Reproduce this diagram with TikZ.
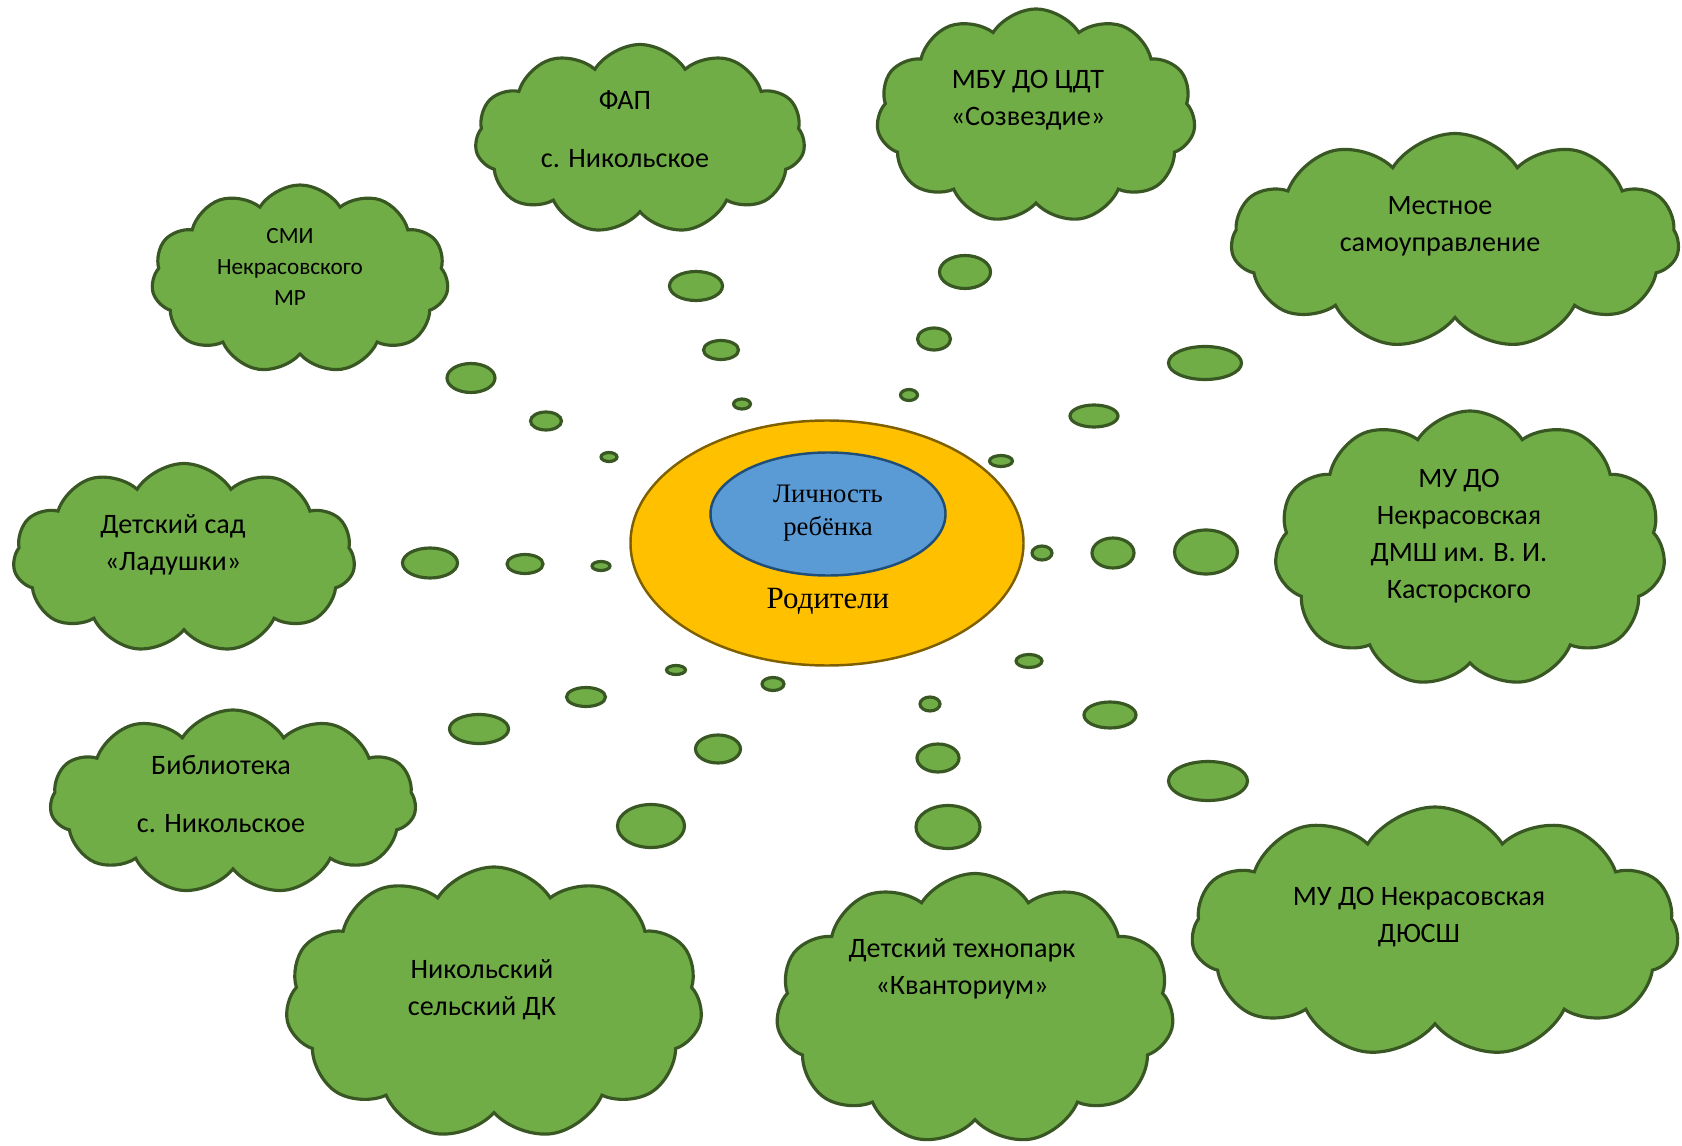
\documentclass[tikz,border=0pt]{standalone}
\usepackage{fontspec}
\setmainfont{Liberation Serif}
\newfontfamily\cloudfont{Carlito}
\usepackage{tikz}
\usetikzlibrary{shapes.geometric,shapes.symbols}

\definecolor{cloudgreen}{HTML}{70AD47}
\definecolor{cloudline}{HTML}{385723}
\definecolor{parentfill}{HTML}{FFC000}
\definecolor{parentline}{HTML}{7F6000}
\definecolor{childfill}{HTML}{5B9BD5}
\definecolor{childline}{HTML}{1F4E79}

\tikzset{
  cloudbox/.style={cloud, cloud puffs=11, cloud puff arc=115, cloud ignores aspect,
    draw=cloudline, fill=cloudgreen, line width=0.9pt, inner sep=0pt},
  cloudtext/.style={align=center, font=\cloudfont\fontsize{8}{10.5}\selectfont},
  bubble/.style={draw=cloudline, fill=cloudgreen, line width=0.9pt},
}

\begin{document}
\begin{tikzpicture}
 \useasboundingbox (0,0) rectangle (16.82,11.45);

    % draw centre
    \node[ellipse, draw=parentline, fill=parentfill, line width=0.7pt, inner sep=0pt,
      minimum width=3.93cm, minimum height=2.45cm] (parents) at (8.27,6.02) {};
    \node[ellipse, draw=childline, fill=childfill, line width=0.7pt, inner sep=0pt,
      minimum width=2.35cm, minimum height=1.23cm] (child) at (8.28,6.31) {};
    \node[align=center, font=\fontsize{7.6}{9.4}\selectfont] (child text) at (8.28,6.32) {Личность\\ребёнка};
    \node[font=\fontsize{8.8}{10}\selectfont] (parents text) at (8.28,5.44) {Родители};

    % draw clouds
    \node[cloudbox, minimum width=3.30cm, minimum height=1.89cm] (fap) at (6.40,10.06) {};
    \node[cloudtext] (fap text) at (6.25,10.16) {ФАП\\[6pt]с. Никольское};
    \node[cloudbox, minimum width=3.19cm, minimum height=2.14cm] (cdt) at (10.36,10.29) {};
    \node[cloudtext] (cdt text) at (10.28,10.45) {МБУ ДО ЦДТ\\«Созвездие»};
    \node[cloudbox, minimum width=4.48cm, minimum height=2.15cm] (gov) at (14.55,9.04) {};
    \node[cloudtext] (gov text) at (14.40,9.19) {Местное\\самоуправление};
    \node[cloudbox, minimum width=2.97cm, minimum height=1.88cm] (media) at (3.00,8.66) {};
    \node[cloudtext, font=\cloudfont\fontsize{6.6}{8.8}\selectfont] (media text) at (2.90,8.78) {СМИ\\Некрасовского\\МР};
    \node[cloudbox, minimum width=3.42cm, minimum height=1.89cm] (kinder) at (1.84,5.87) {};
    \node[cloudtext] (kinder text) at (1.73,6.00) {Детский сад\\«Ладушки»};
    \node[cloudbox, minimum width=3.91cm, minimum height=2.76cm] (music) at (14.70,5.96) {};
    \node[cloudtext] (music text) at (14.59,6.09) {МУ ДО\\Некрасовская\\ДМШ им. В. И.\\Касторского};
    \node[cloudbox, minimum width=3.66cm, minimum height=1.84cm] (library) at (2.33,3.43) {};
    \node[cloudtext] (library text) at (2.21,3.51) {Библиотека\\[6pt]с. Никольское};
    \node[cloudbox, minimum width=4.17cm, minimum height=2.72cm] (club) at (4.94,1.42) {};
    \node[cloudtext] (club text) at (4.82,1.55) {Никольский\\сельский ДК};
    \node[cloudbox, minimum width=3.98cm, minimum height=2.71cm] (techno) at (9.75,1.36) {};
    \node[cloudtext] (techno text) at (9.62,1.76) {Детский технопарк\\«Кванториум»};
    \node[cloudbox, minimum width=4.87cm, minimum height=2.50cm] (sport) at (14.35,2.13) {};
    \node[cloudtext] (sport text) at (14.19,2.28) {МУ ДО Некрасовская\\ДЮСШ};

    % draw bubbles
    \draw[bubble] (6.96,8.59) ellipse (0.265 and 0.145);
    \draw[bubble] (7.21,7.95) ellipse (0.175 and 0.095);
    \draw[bubble] (7.42,7.41) ellipse (0.085 and 0.05);
    \draw[bubble] (9.65,8.73) ellipse (0.255 and 0.165);
    \draw[bubble] (9.34,8.06) ellipse (0.165 and 0.11);
    \draw[bubble] (9.09,7.50) ellipse (0.085 and 0.055);
    \draw[bubble] (12.05,7.82) ellipse (0.365 and 0.165);
    \draw[bubble] (10.94,7.29) ellipse (0.24 and 0.11);
    \draw[bubble] (10.01,6.84) ellipse (0.115 and 0.055);
    \draw[bubble] (4.71,7.67) ellipse (0.24 and 0.145);
    \draw[bubble] (5.46,7.24) ellipse (0.155 and 0.09);
    \draw[bubble] (6.09,6.88) ellipse (0.08 and 0.045);
    \draw[bubble] (4.30,5.82) ellipse (0.275 and 0.15);
    \draw[bubble] (5.25,5.81) ellipse (0.18 and 0.095);
    \draw[bubble] (6.01,5.79) ellipse (0.09 and 0.045);
    \draw[bubble] (12.06,5.93) ellipse (0.315 and 0.22);
    \draw[bubble] (11.13,5.92) ellipse (0.21 and 0.15);
    \draw[bubble] (10.42,5.92) ellipse (0.10 and 0.07);
    \draw[bubble] (4.79,4.16) ellipse (0.295 and 0.145);
    \draw[bubble] (5.86,4.48) ellipse (0.195 and 0.095);
    \draw[bubble] (6.76,4.75) ellipse (0.095 and 0.045);
    \draw[bubble] (6.51,3.19) ellipse (0.335 and 0.215);
    \draw[bubble] (7.18,3.96) ellipse (0.225 and 0.14);
    \draw[bubble] (7.73,4.61) ellipse (0.11 and 0.065);
    \draw[bubble] (9.48,3.18) ellipse (0.32 and 0.215);
    \draw[bubble] (9.38,3.87) ellipse (0.21 and 0.14);
    \draw[bubble] (9.30,4.41) ellipse (0.10 and 0.07);
    \draw[bubble] (12.08,3.64) ellipse (0.395 and 0.195);
    \draw[bubble] (11.10,4.30) ellipse (0.26 and 0.13);
    \draw[bubble] (10.29,4.84) ellipse (0.13 and 0.065);

\end{tikzpicture}
\end{document}
